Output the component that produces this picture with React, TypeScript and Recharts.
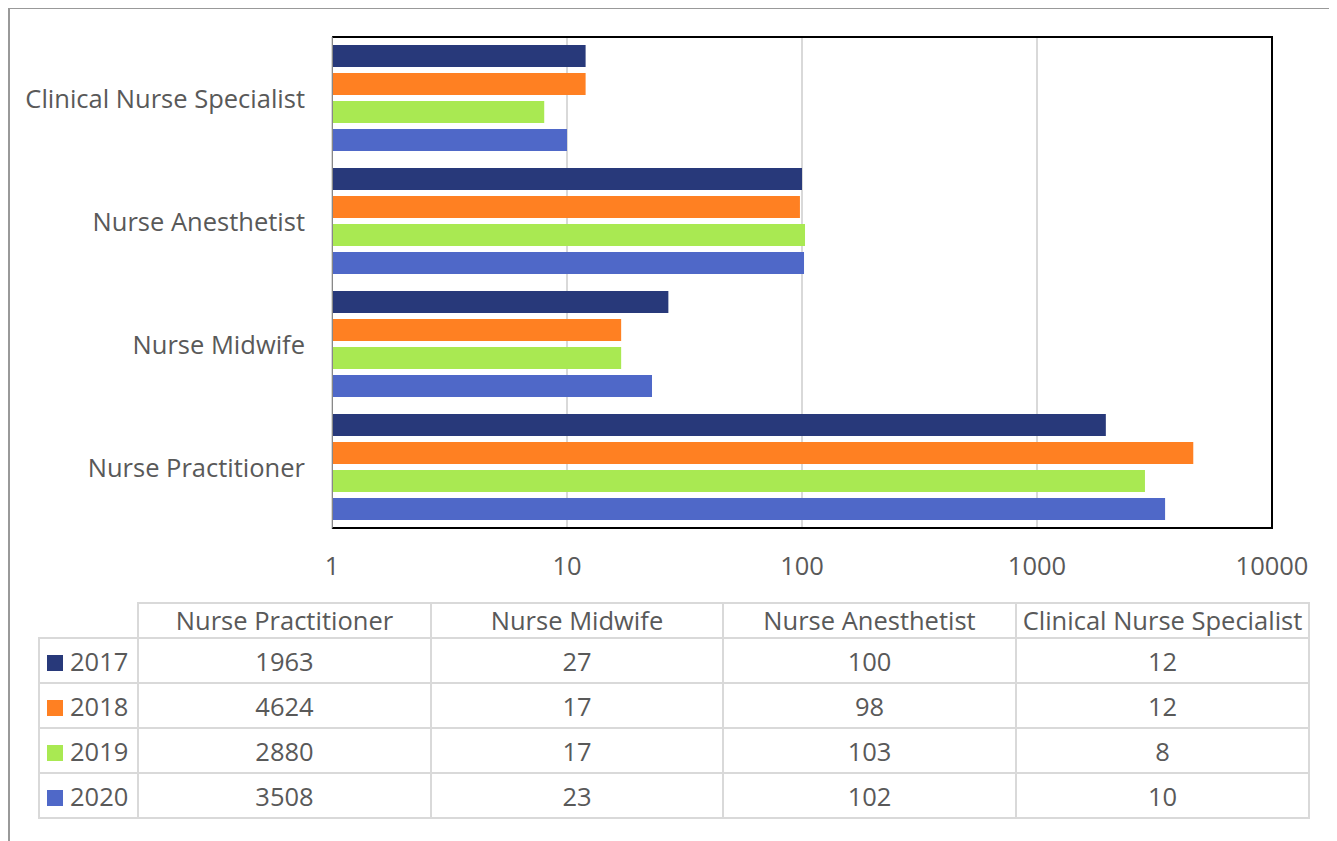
import { BarChart, Bar, XAxis, YAxis, CartesianGrid } from 'recharts';

const categories = ['Nurse Practitioner', 'Nurse Midwife', 'Nurse Anesthetist', 'Clinical Nurse Specialist'];
const years = ['2017', '2018', '2019', '2020'];
const values2017 = [1963, 27, 100, 12];
const values2018 = [4624, 17, 98, 12];
const values2019 = [2880, 17, 103, 8];
const values2020 = [3508, 23, 102, 10];
const xTicks = [1, 10, 100, 1000, 10000];

const seriesValues = [values2017, values2018, values2019, values2020];
const colors = ['#28397a', '#ff8022', '#a9e952', '#4f68c8'];

const FONT = '"Open Sans", sans-serif';
const TEXT = '#595959';
const LINE = '#d9d9d9';
const FS = 25.5;

const chartData = categories.map((c, i) => {
  const row: any = { category: c };
  years.forEach((y, k) => { row['y' + y] = seriesValues[k][i]; });
  return row;
});

const cell = { border: `2px solid ${LINE}`, textAlign: 'center' as const, padding: 0 };

export default function App() {
  return (
    <div style={{ position: 'relative', width: 1329, height: 834, marginTop: -1, fontFamily: FONT, color: TEXT }}>
      <div style={{ position: 'absolute', left: 0, top: 0, width: 1329, height: 834, borderLeft: '2px solid #999', borderTop: '2px solid #999', boxSizing: 'border-box' }} />
      <div style={{ position: 'absolute', left: 0, top: 0 }}>
        <BarChart width={1329} height={600} data={chartData} layout="vertical"
          margin={{ top: 30, right: 65, bottom: 18, left: 0 }} barCategoryGap={8} barGap={6}>
          <CartesianGrid horizontal={false} stroke={LINE} strokeWidth={2} />
          <XAxis type="number" scale="log" domain={[1, 10000]} ticks={xTicks} interval={0}
            axisLine={false} tickLine={false} tickSize={0} tickMargin={28} height={60}
            tick={{ fontFamily: FONT, fontSize: FS, fill: TEXT }} />
          <YAxis type="category" dataKey="category" reversed width={324}
            axisLine={false} tickLine={false} tickSize={0} tickMargin={27}
            tick={{ fontFamily: FONT, fontSize: FS, fill: TEXT }} />
          {years.map((y, k) => (
            <Bar key={y} dataKey={'y' + y} name={y} fill={colors[k]} isAnimationActive={false} />
          ))}
        </BarChart>
      </div>
      <div style={{ position: 'absolute', left: 324, top: 29, width: 941, height: 493, boxSizing: 'border-box',
        borderTop: '2px solid #000', borderRight: '2px solid #000', borderBottom: '2px solid #000', borderLeft: '1px solid #888' }} />
      <table style={{ position: 'absolute', left: 30, top: 595, borderCollapse: 'collapse', tableLayout: 'fixed', fontSize: FS, fontFamily: FONT, color: TEXT }}>
        <colgroup>
          <col style={{ width: 99 }} />
          <col style={{ width: 293 }} />
          <col style={{ width: 292 }} />
          <col style={{ width: 293 }} />
          <col style={{ width: 293 }} />
        </colgroup>
        <thead>
          <tr style={{ height: 35 }}>
            <th style={{ border: 'none', padding: 0 }} />
            {categories.map(c => (
              <th key={c} style={{ ...cell, fontWeight: 'normal', lineHeight: '29px', whiteSpace: 'nowrap' }}>{c}</th>
            ))}
          </tr>
        </thead>
        <tbody>
          {years.map((y, k) => (
            <tr key={y} style={{ height: 45 }}>
              <td style={{ ...cell, textAlign: 'left', paddingLeft: 7, whiteSpace: 'nowrap' }}>
                <span style={{ display: 'inline-block', width: 16, height: 16, background: colors[k], marginRight: 7 }} />
                {y}
              </td>
              {seriesValues[k].map((v, i) => (
                <td key={i} style={cell}>{v}</td>
              ))}
            </tr>
          ))}
        </tbody>
      </table>
    </div>
  );
}
